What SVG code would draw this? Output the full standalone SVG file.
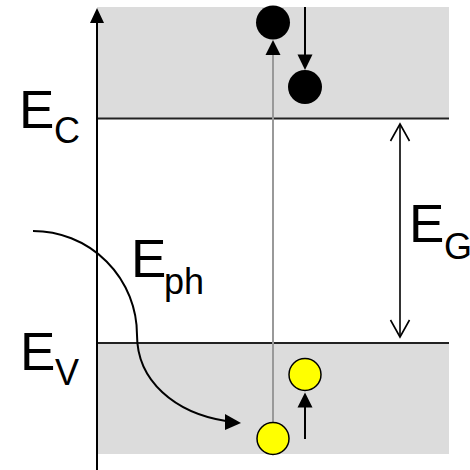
<svg xmlns="http://www.w3.org/2000/svg" width="470" height="470" viewBox="0 0 470 470">
  <style>
    .band { fill: #dcdcdc; stroke: none; }
    .level { stroke: #222; stroke-width: 2; fill: none; }
    .line { stroke: #000; stroke-width: 2; fill: none; }
    .thin { stroke: #000; stroke-width: 1.6; fill: none; }
    .gray { stroke: #999; stroke-width: 2; fill: none; }
    .head { fill: #000; stroke: none; }
    .electron { fill: #000; stroke: none; }
    .hole { fill: #ffff00; stroke: #000; stroke-width: 1.5; }
    .lbl { font-family: "Liberation Sans", Arial, sans-serif; fill: #000; }
    .big { font-size: 53px; }
    .sub { font-size: 36px; }
  </style>

  <g id="conduction-band">
    <rect class="band" x="97" y="7" width="352" height="111.5"/>
    <line class="level" x1="97" y1="118.5" x2="449" y2="118.5"/>
  </g>
  <g id="valence-band">
    <rect class="band" x="97" y="343" width="352" height="111"/>
    <line class="level" x1="97" y1="343" x2="449" y2="343"/>
  </g>

  <g id="energy-axis">
    <line class="line" x1="97" y1="470" x2="97" y2="20"/>
    <polygon class="head" points="97,8 90,23 104,23"/>
  </g>

  <g id="connectors">
    <line class="gray" x1="273" y1="422" x2="273" y2="52"/>
    <polygon class="head" points="273,40 265.5,55 280.5,55"/>
    <line class="line" x1="305" y1="7" x2="305" y2="58"/>
    <polygon class="head" points="305,70 297.5,54.5 312.5,54.5"/>
    <line class="line" x1="305" y1="439" x2="305" y2="404"/>
    <polygon class="head" points="305,392.5 297.5,407.5 312.5,407.5"/>
    <line class="thin" x1="400" y1="124" x2="400" y2="337"/>
    <polyline class="thin" points="390.5,141 400,124 409.5,141"/>
    <polyline class="thin" points="390.5,320 400,337 409.5,320"/>
    <path class="line" d="M33,231 A104,104 0 0 1 137,335 C137,381 175,413 226,421"/>
    <polygon class="head" points="241,423 225,414 225,430"/>
  </g>

  <g id="electron-1"><circle class="electron" cx="273" cy="22.5" r="17"/></g>
  <g id="electron-2"><circle class="electron" cx="305" cy="87" r="17"/></g>
  <g id="hole-1"><circle class="hole" cx="305" cy="374.5" r="16"/></g>
  <g id="hole-2"><circle class="hole" cx="273" cy="438.5" r="16"/></g>

  <g id="label-ec">
    <text class="lbl big" x="19" y="128">E</text>
    <text class="lbl sub" x="54" y="143">C</text>
  </g>
  <g id="label-ev">
    <text class="lbl big" x="20" y="370">E</text>
    <text class="lbl sub" x="55" y="385">V</text>
  </g>
  <g id="label-eph">
    <text class="lbl big" x="131" y="277">E</text>
    <text class="lbl sub" x="164" y="294">ph</text>
  </g>
  <g id="label-eg">
    <text class="lbl big" x="409" y="242">E</text>
    <text class="lbl sub" x="444" y="259">G</text>
  </g>
</svg>
